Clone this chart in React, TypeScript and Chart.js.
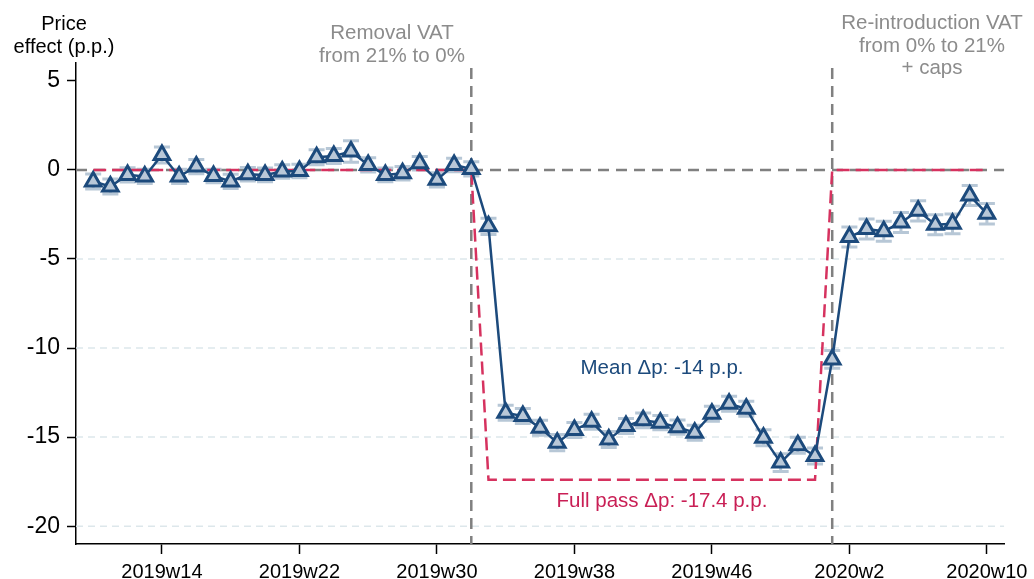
import React, { useEffect, useRef } from "react";
import { Chart, registerables } from "chart.js";

Chart.register(...registerables);

const weekLabels = [
  "2019w10", "2019w11", "2019w12", "2019w13", "2019w14", "2019w15", "2019w16", "2019w17",
  "2019w18", "2019w19", "2019w20", "2019w21", "2019w22", "2019w23", "2019w24", "2019w25",
  "2019w26", "2019w27", "2019w28", "2019w29", "2019w30", "2019w31", "2019w32", "2019w33",
  "2019w34", "2019w35", "2019w36", "2019w37", "2019w38", "2019w39", "2019w40", "2019w41",
  "2019w42", "2019w43", "2019w44", "2019w45", "2019w46", "2019w47", "2019w48", "2019w49",
  "2019w50", "2019w51", "2019w52", "2020w1", "2020w2", "2020w3", "2020w4", "2020w5",
  "2020w6", "2020w7", "2020w8", "2020w9", "2020w10",
];

const tickWeeks = ["2019w14", "2019w22", "2019w30", "2019w38", "2019w46", "2020w2", "2020w10"];
const eventWeeks = ["2019w32", "2020w1"];

const priceEffect = [
  -0.65, -0.93, -0.28, -0.37, 0.84, -0.37, 0.19, -0.34, -0.65, -0.24, -0.28, -0.09,
  -0.06, 0.71, 0.78, 1.03, 0.28, -0.28, -0.19, 0.37, -0.56, 0.28, 0.05,
  -3.17, -13.63, -13.82, -14.47, -15.31, -14.6, -14.14, -15.13, -14.38, -14.06, -14.19,
  -14.44, -14.75, -13.69, -13.13, -13.41, -15.03, -16.43, -15.46, -16.06, -10.64,
  -3.77, -3.32, -3.45, -2.95, -2.3, -3.08, -3.03, -1.44, -2.46,
];

const ciHalf = [
  0.42, 0.42, 0.4, 0.4, 0.45, 0.4, 0.4, 0.38, 0.4, 0.38, 0.38, 0.38, 0.38, 0.42, 0.42,
  0.6, 0.4, 0.38, 0.38, 0.38, 0.4, 0.38, 0.4,
  0.45, 0.42, 0.42, 0.42, 0.45, 0.42, 0.42, 0.45, 0.42, 0.42, 0.4, 0.4, 0.42, 0.42,
  0.42, 0.42, 0.45, 0.5, 0.45, 0.45, 0.5,
  0.56, 0.56, 0.56, 0.56, 0.57, 0.56, 0.56, 0.56, 0.58,
];

const fullPass = [
  0, 0, 0, 0, 0, 0, 0, 0, 0, 0, 0, 0, 0, 0, 0, 0, 0, 0, 0, 0, 0, 0, 0,
  -17.4, -17.4, -17.4, -17.4, -17.4, -17.4, -17.4, -17.4, -17.4, -17.4,
  -17.4, -17.4, -17.4, -17.4, -17.4, -17.4, -17.4, -17.4, -17.4, -17.4,
  0, 0, 0, 0, 0, 0, 0, 0, 0, 0,
];

const yTicks = [-20, -15, -10, -5, 0, 5];
const gridValues = [-20, -15, -10, -5];

const FONT = "'Liberation Sans', Arial, Helvetica, sans-serif";
const NAVY = "#1c4a7c";
const RED = "#d6325f";
const GRAY = "#808080";

export default function App() {
  const ref = useRef<HTMLCanvasElement | null>(null);

  useEffect(() => {
    document.body.style.margin = "0";
    const canvas = ref.current;
    if (!canvas) return;

    const overlay = {
      id: "overlay",
      beforeDatasetsDraw(chart: any) {
        const { ctx, chartArea, scales } = chart;
        const { left, right, top, bottom } = chartArea;
        const x = scales.x;
        const y = scales.y;
        ctx.save();
        // grid
        ctx.strokeStyle = "#dde7eb";
        ctx.lineWidth = 1.5;
        ctx.setLineDash([7, 5]);
        gridValues.forEach((v) => {
          const py = y.getPixelForValue(v);
          ctx.beginPath();
          ctx.moveTo(left, py);
          ctx.lineTo(right, py);
          ctx.stroke();
        });
        // zero line
        ctx.strokeStyle = GRAY;
        ctx.lineWidth = 2.5;
        ctx.setLineDash([11, 7]);
        const py0 = y.getPixelForValue(0);
        ctx.beginPath();
        ctx.moveTo(left, py0);
        ctx.lineTo(right, py0);
        ctx.stroke();
        // event lines
        eventWeeks.forEach((w) => {
          const px = x.getPixelForValue(weekLabels.indexOf(w));
          ctx.beginPath();
          ctx.moveTo(px, top + 5);
          ctx.lineTo(px, bottom);
          ctx.stroke();
        });
        // error bars
        ctx.setLineDash([]);
        ctx.strokeStyle = "#b7c7d6";
        ctx.lineWidth = 3;
        priceEffect.forEach((v, i) => {
          const px = x.getPixelForValue(i);
          const lo = y.getPixelForValue(v - ciHalf[i]);
          const hi = y.getPixelForValue(v + ciHalf[i]);
          ctx.beginPath();
          ctx.moveTo(px, lo);
          ctx.lineTo(px, hi);
          ctx.moveTo(px - 8, lo);
          ctx.lineTo(px + 8, lo);
          ctx.moveTo(px - 8, hi);
          ctx.lineTo(px + 8, hi);
          ctx.stroke();
        });
        ctx.restore();
      },
      afterDraw(chart: any) {
        const { ctx } = chart;
        ctx.save();
        ctx.textAlign = "center";
        ctx.textBaseline = "middle";
        ctx.fillStyle = "#000";
        ctx.font = `20px ${FONT}`;
        ctx.fillText("Price", 64, 24);
        ctx.fillText("effect (p.p.)", 64, 47);
        ctx.fillStyle = "#8c8c8c";
        ctx.font = `20.5px ${FONT}`;
        ctx.fillText("Removal VAT", 392, 33);
        ctx.fillText("from 21% to 0%", 392, 56);
        ctx.fillText("Re-introduction VAT", 932, 23);
        ctx.fillText("from 0% to 21%", 932, 46);
        ctx.fillText("+ caps", 932, 68);
        ctx.fillStyle = NAVY;
        ctx.fillText("Mean \u0394p: -14 p.p.", 662, 368);
        ctx.fillStyle = "#c91f55";
        ctx.fillText("Full pass \u0394p: -17.4 p.p.", 662, 501);
        ctx.restore();
      },
    };

    const chart = new Chart(canvas, {
      type: "line",
      data: {
        datasets: [
          {
            label: "Price effect",
            data: priceEffect.map((v, i) => ({ x: i, y: v })),
            borderColor: NAVY,
            borderWidth: 2.5,
            pointStyle: "triangle",
            pointRadius: 9,
            pointBorderWidth: 3,
            pointBackgroundColor: "#b9c8d8",
            pointBorderColor: NAVY,
            tension: 0,
            order: 0,
          },
          {
            label: "Full pass",
            data: fullPass.map((v, i) => ({ x: i, y: v })),
            borderColor: RED,
            borderWidth: 2.5,
            borderDash: [13, 6],
            pointRadius: 0,
            tension: 0,
            order: 1,
          },
        ],
      },
      options: {
        responsive: false,
        animation: false,
        devicePixelRatio: 1,
        layout: { padding: { top: 63, right: 28, left: 0, bottom: 0 } },
        plugins: {
          legend: { display: false },
          tooltip: { enabled: false },
          title: { display: false },
        },
        scales: {
          x: {
            type: "linear",
            min: -1,
            max: 53,
            afterBuildTicks: (scale: any) => {
              scale.ticks = tickWeeks.map((w) => ({ value: weekLabels.indexOf(w) }));
            },
            afterFit: (scale: any) => {
              scale.height = 35;
            },
            ticks: {
              autoSkip: false,
              maxRotation: 0,
              padding: 6,
              color: "#000",
              font: { size: 20, family: FONT },
              callback: (v: any) => weekLabels[Number(v)] ?? "",
            },
            grid: {
              drawOnChartArea: false,
              drawTicks: true,
              tickLength: 10,
              tickColor: "#000",
              tickWidth: 1.5,
            },
            border: { display: true, color: "#000", width: 1.5 },
          },
          y: {
            type: "linear",
            min: -21,
            max: 6,
            afterBuildTicks: (scale: any) => {
              scale.ticks = yTicks.map((v) => ({ value: v }));
            },
            afterFit: (scale: any) => {
              scale.width = 76;
            },
            ticks: {
              padding: 7,
              color: "#000",
              font: { size: 23, family: FONT },
              callback: (v: any) => String(v),
            },
            grid: {
              drawOnChartArea: false,
              drawTicks: true,
              tickLength: 9,
              tickColor: "#000",
              tickWidth: 1.5,
            },
            border: { display: true, color: "#000", width: 1.5 },
          },
        },
      },
      plugins: [overlay],
    } as any);

    return () => chart.destroy();
  }, []);

  return (
    <div style={{ width: 1034, height: 579, background: "#fff" }}>
      <canvas ref={ref} width={1034} height={579} style={{ display: "block" }} />
    </div>
  );
}
